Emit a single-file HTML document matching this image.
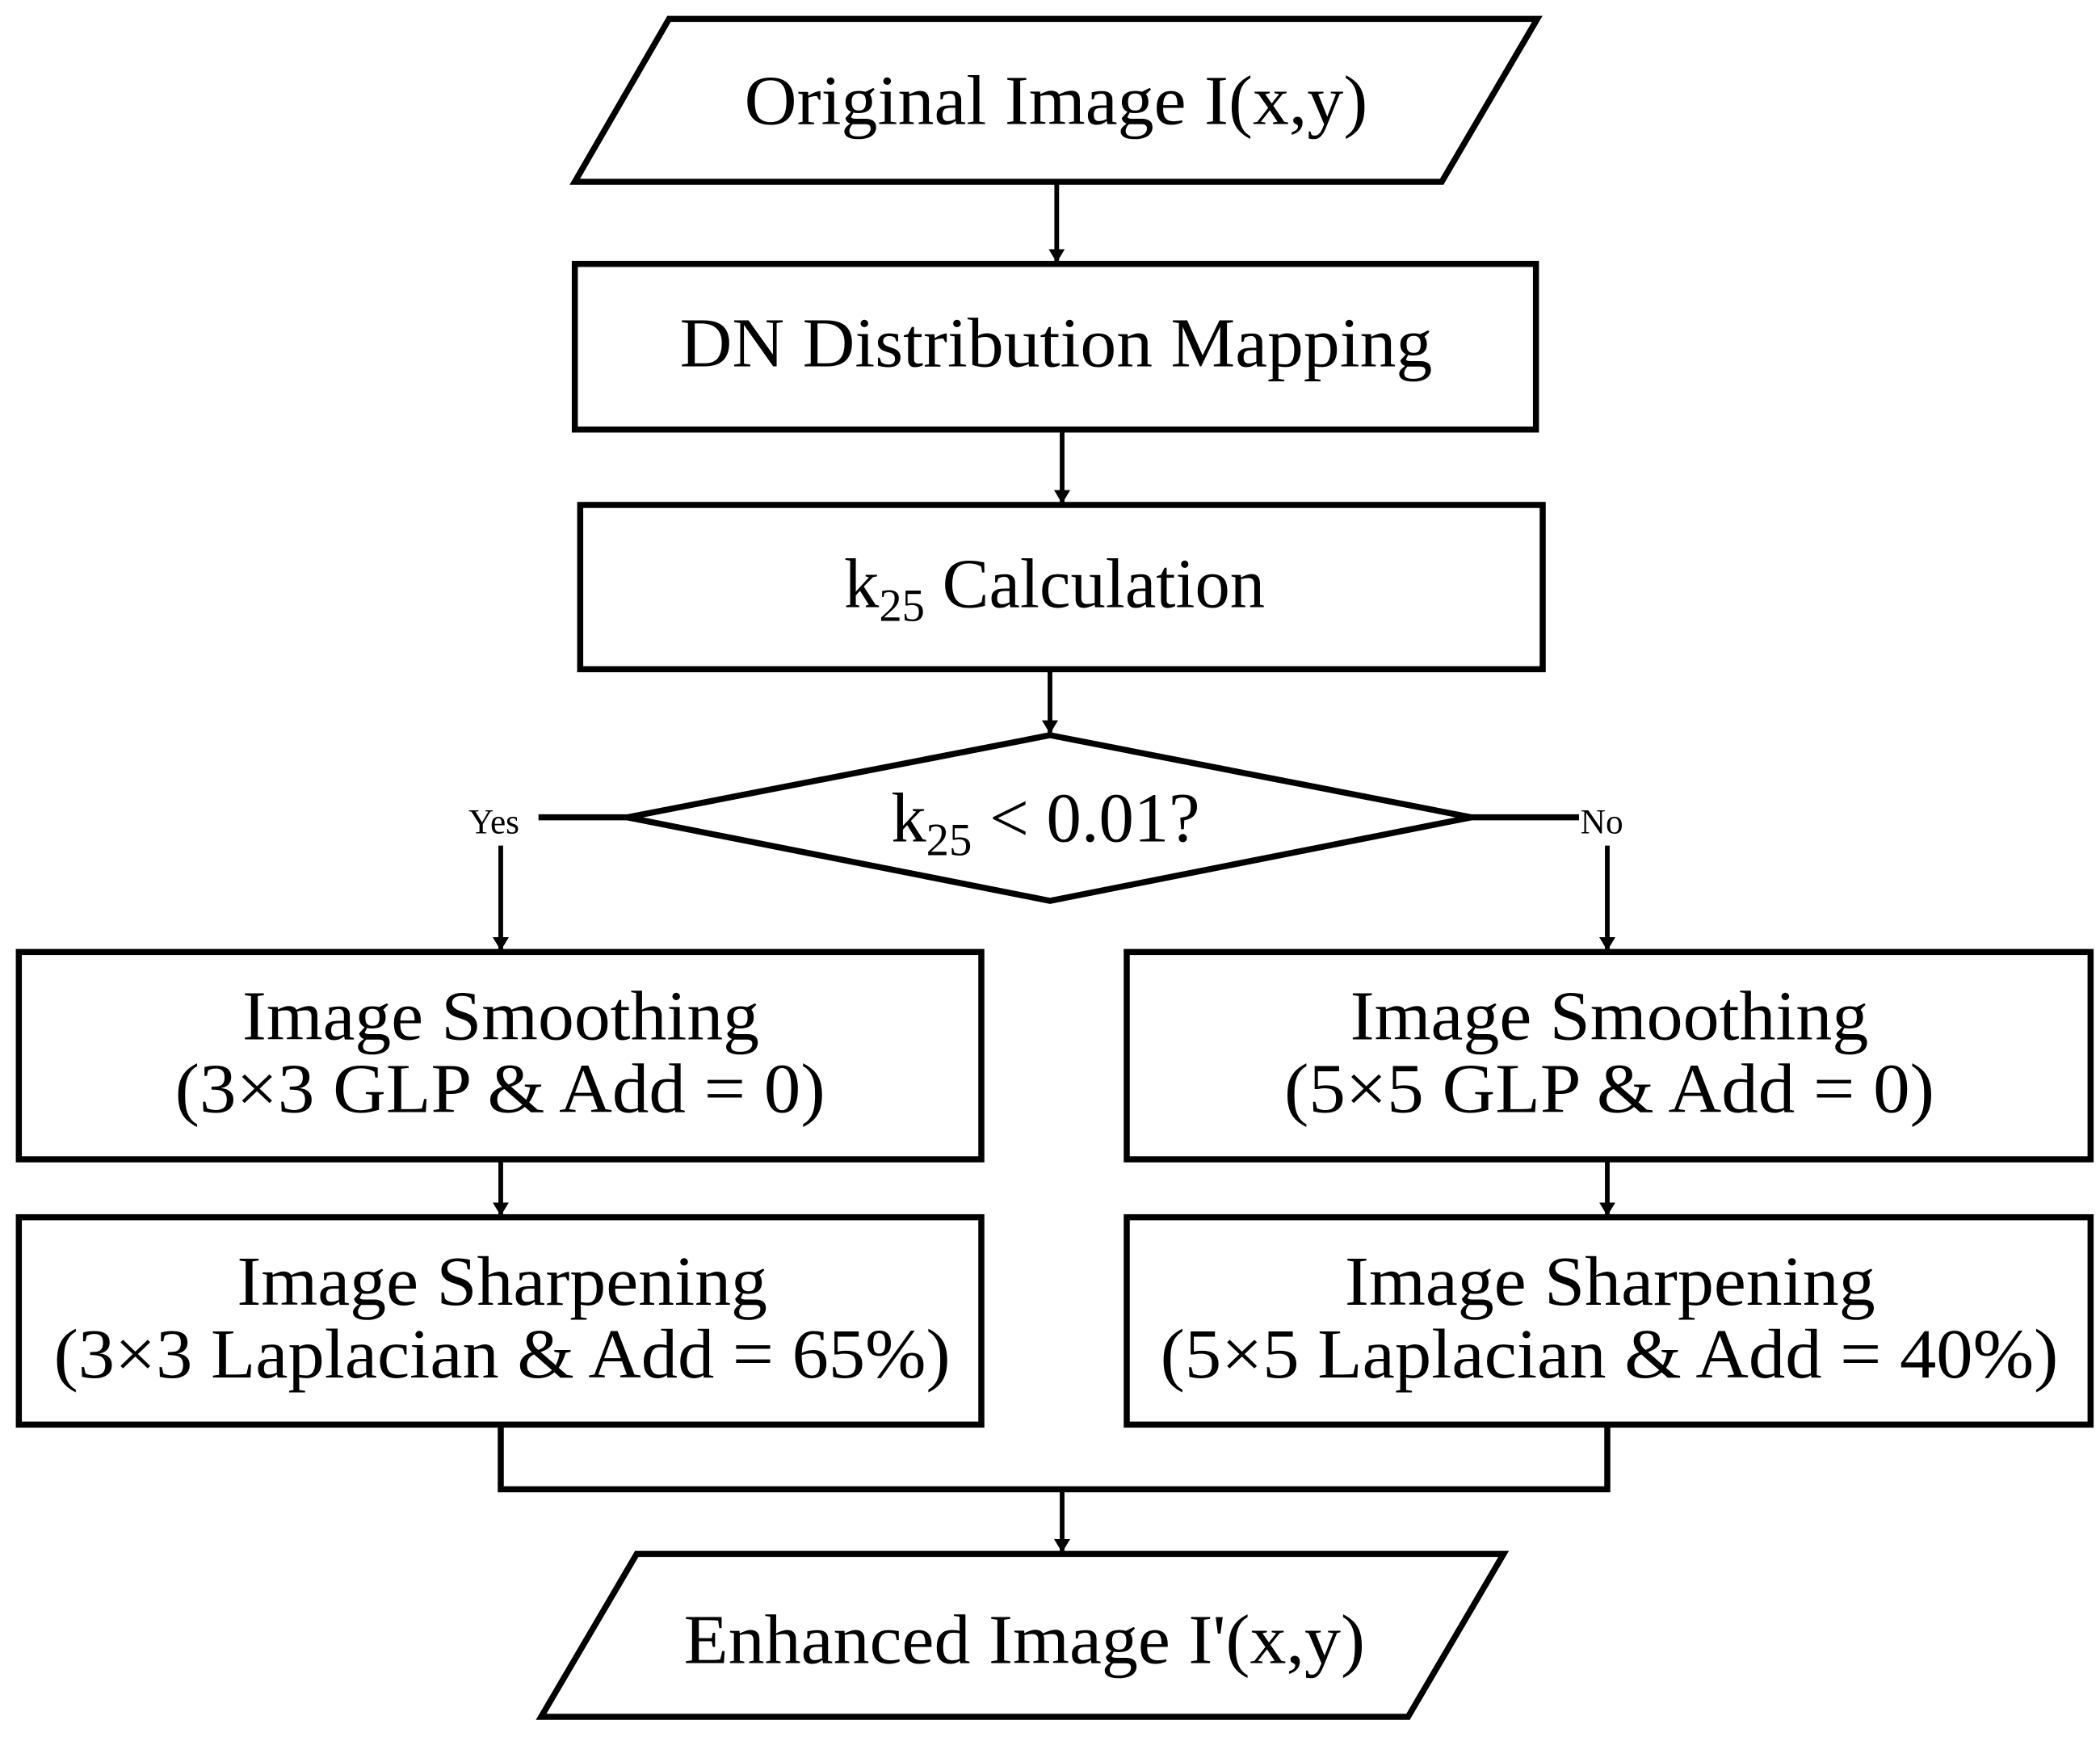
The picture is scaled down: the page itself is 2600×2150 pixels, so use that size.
<!DOCTYPE html>
<html><head><meta charset="utf-8"><style>html,body{margin:0;padding:0;background:#fff}svg{display:block}</style></head>
<body>
<svg width="2600" height="2150" viewBox="0 0 1560 1290" xmlns="http://www.w3.org/2000/svg">
<defs><marker id="a" markerWidth="10" markerHeight="12" refX="9" refY="6" orient="auto" markerUnits="userSpaceOnUse"><path d="M0,0 L10,6 L0,12 z" fill="#000"/></marker></defs>
<g fill="none" stroke="#000" stroke-width="4.5">
<polygon points="497,14 1142,14 1071,135 427,135" fill="#fff"/>
<rect x="427" y="196" width="714" height="123" fill="#fff"/>
<rect x="431" y="375" width="715" height="122" fill="#fff"/>
<polygon points="780,546 1093,607 780,669 466,607" fill="#fff"/>
<rect x="14" y="707" width="715" height="154" fill="#fff"/>
<rect x="14" y="904" width="715" height="154" fill="#fff"/>
<rect x="837" y="707" width="716" height="154" fill="#fff"/>
<rect x="837" y="904" width="716" height="154" fill="#fff"/>
<polygon points="473,1154 1117,1154 1046,1275 402,1275" fill="#fff"/>
<line x1="400" y1="607" x2="466" y2="607"/>
<line x1="1093" y1="607" x2="1173" y2="607"/>
<polyline points="372,1058 372,1106 1194,1106 1194,1058"/>
</g>
<g stroke="#000" stroke-width="3.5" marker-end="url(#a)">
<line x1="785" y1="137" x2="785" y2="194"/>
<line x1="789" y1="321" x2="789" y2="373"/>
<line x1="780" y1="499" x2="780" y2="544"/>
<line x1="372" y1="628" x2="372" y2="705"/>
<line x1="1194" y1="628" x2="1194" y2="705"/>
<line x1="372" y1="863" x2="372" y2="902"/>
<line x1="1194" y1="863" x2="1194" y2="902"/>
<line x1="789" y1="1108" x2="789" y2="1152"/>
</g>
<g font-family="Liberation Serif, serif" font-size="52" fill="#000" lengthAdjust="spacingAndGlyphs">
<text x="553" y="92" textLength="463" lengthAdjust="spacingAndGlyphs">Original Image I(x,y)</text>
<text x="505" y="272" textLength="559" lengthAdjust="spacingAndGlyphs">DN Distribution Mapping</text>
<text x="627" y="451">k<tspan font-size="34" dy="10">25</tspan><tspan dy="-10"> Calculation</tspan></text>
<text x="662" y="625">k<tspan font-size="34" dy="10">25</tspan><tspan dy="-10"> &lt; 0.01?</tspan></text>
<text x="180" y="772" textLength="384" lengthAdjust="spacingAndGlyphs">Image Smoothing</text>
<text x="130" y="826" textLength="483" lengthAdjust="spacingAndGlyphs">(3×3 GLP &amp; Add = 0)</text>
<text x="176" y="969" textLength="394" lengthAdjust="spacingAndGlyphs">Image Sharpening</text>
<text x="40" y="1023" textLength="666" lengthAdjust="spacingAndGlyphs">(3×3 Laplacian &amp; Add = 65%)</text>
<text x="1003" y="772" textLength="385" lengthAdjust="spacingAndGlyphs">Image Smoothing</text>
<text x="954" y="826" textLength="483" lengthAdjust="spacingAndGlyphs">(5×5 GLP &amp; Add = 0)</text>
<text x="999" y="969" textLength="394" lengthAdjust="spacingAndGlyphs">Image Sharpening</text>
<text x="862" y="1023" textLength="667" lengthAdjust="spacingAndGlyphs">(5×5 Laplacian &amp; Add = 40%)</text>
<text x="508" y="1235" textLength="506" lengthAdjust="spacingAndGlyphs">Enhanced Image I'(x,y)</text>
<text x="348" y="619" font-size="26">Yes</text>
<text x="1174" y="619" font-size="26">No</text>
</g>
</svg>
</body></html>
